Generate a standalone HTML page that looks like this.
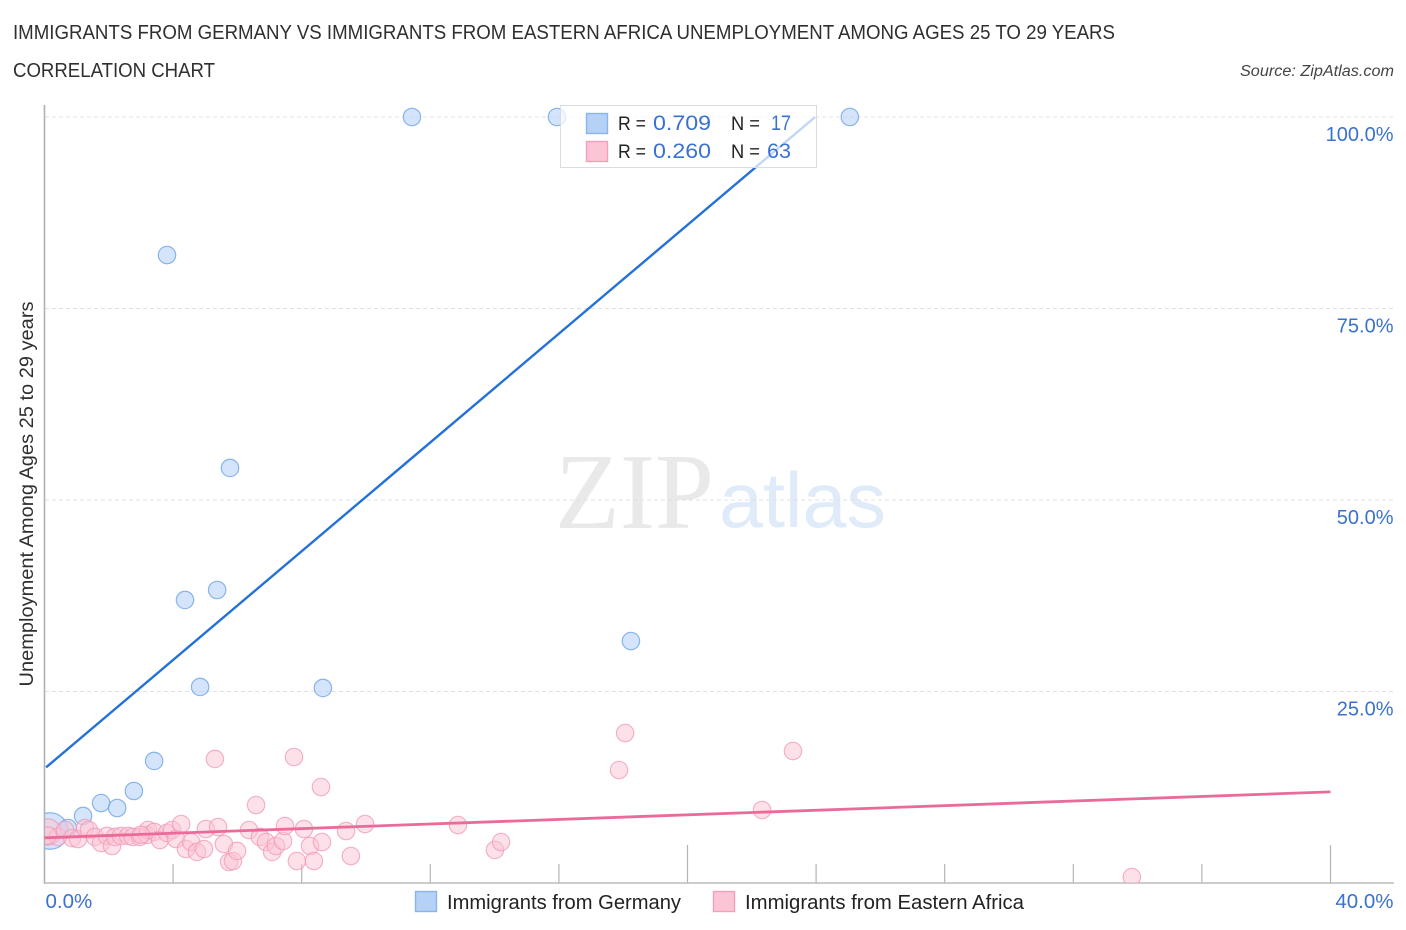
<!DOCTYPE html>
<html lang="en">
<head>
<meta charset="utf-8">
<title>Immigrants from Germany vs Immigrants from Eastern Africa Unemployment Correlation Chart</title>
<style>
html,body{margin:0;padding:0;background:#fff;width:1406px;height:930px;overflow:hidden}
svg{display:block;font-family:"Liberation Sans",sans-serif}
</style>
</head>
<body>
<svg id="chart" xmlns="http://www.w3.org/2000/svg" width="1406" height="930" viewBox="0 0 1406 930">
  <defs>
    <clipPath id="plot-clip"><rect x="45" y="100" width="1349" height="783"/></clipPath>
  </defs>
  <text x="13" y="39" font-size="20" fill="#2f2f2f" textLength="1102" lengthAdjust="spacingAndGlyphs">IMMIGRANTS FROM GERMANY VS IMMIGRANTS FROM EASTERN AFRICA UNEMPLOYMENT AMONG AGES 25 TO 29 YEARS</text>
  <text x="13" y="77" font-size="20" fill="#2f2f2f" textLength="202" lengthAdjust="spacingAndGlyphs">CORRELATION CHART</text>
  <text x="1394" y="76" font-size="15.5" font-style="italic" fill="#444" text-anchor="end" textLength="154" lengthAdjust="spacingAndGlyphs">Source: ZipAtlas.com</text>

  <g>
    <text x="555" y="528" font-family="'Liberation Serif',serif" font-size="108" fill="#e9e9e9" textLength="159" lengthAdjust="spacingAndGlyphs">ZIP</text>
    <text x="719" y="527" font-size="78" fill="#e0ebf9" textLength="167" lengthAdjust="spacingAndGlyphs">atlas</text>
  </g>

  <g id="grid"></g>
  <g id="axes"></g>
  <g id="points-germany" clip-path="url(#plot-clip)"></g>
  <g id="points-africa" clip-path="url(#plot-clip)"></g>
  <g id="trends"></g>
  <g id="labels"></g>

  <text transform="translate(33,494) rotate(-90)" font-size="19.5" fill="#2f2f2f" text-anchor="middle" textLength="385" lengthAdjust="spacingAndGlyphs">Unemployment Among Ages 25 to 29 years</text>

  <g>
    <rect x="560.5" y="105.5" width="256" height="62" fill="#fff" fill-opacity="0.72" stroke="#d9dde2" stroke-width="1"/>
    <rect x="586.5" y="113.5" width="21" height="20" fill="#b5d1f6" stroke="#8ab4ea" stroke-width="1.4"/>
    <rect x="586.5" y="141.5" width="21" height="20" fill="#fcc5d6" stroke="#f2a0bb" stroke-width="1.4"/>
    <text x="618" y="130" font-size="19.5" fill="#222" textLength="28" lengthAdjust="spacingAndGlyphs">R =</text>
    <text x="653" y="130" font-size="21.5" fill="#3a72d0" textLength="58" lengthAdjust="spacingAndGlyphs">0.709</text>
    <text x="731" y="130" font-size="19.5" fill="#222" textLength="29" lengthAdjust="spacingAndGlyphs">N =</text>
    <text x="771" y="130" font-size="21.5" fill="#3a72d0" textLength="20" lengthAdjust="spacingAndGlyphs">17</text>
    <text x="618" y="158" font-size="19.5" fill="#222" textLength="28" lengthAdjust="spacingAndGlyphs">R =</text>
    <text x="653" y="158" font-size="21.5" fill="#3a72d0" textLength="58" lengthAdjust="spacingAndGlyphs">0.260</text>
    <text x="731" y="158" font-size="19.5" fill="#222" textLength="29" lengthAdjust="spacingAndGlyphs">N =</text>
    <text x="767" y="158" font-size="21.5" fill="#3a72d0" textLength="24" lengthAdjust="spacingAndGlyphs">63</text>
  </g>

  <g>
    <rect x="415.5" y="891.5" width="21" height="20" fill="#b5d1f6" stroke="#8ab4ea" stroke-width="1.4"/>
    <text x="447" y="909" font-size="20" fill="#222" textLength="234" lengthAdjust="spacingAndGlyphs">Immigrants from Germany</text>
    <rect x="713.5" y="891.5" width="21" height="20" fill="#fcc5d6" stroke="#f2a0bb" stroke-width="1.4"/>
    <text x="745" y="909" font-size="20" fill="#222" textLength="279" lengthAdjust="spacingAndGlyphs">Immigrants from Eastern Africa</text>
  </g>
</svg>

<script>
const germanyX = [0.17, 0.73, 1.20, 1.76, 2.26, 2.78, 3.41, 3.81, 4.37, 4.84, 5.37, 5.77, 8.66, 11.43, 15.94, 18.24, 25.05];
const germanyY = [6.79, 7.18, 8.75, 10.44, 9.79, 12.01, 15.93, 81.98, 36.95, 25.59, 38.25, 54.18, 25.46, 100, 100, 31.59, 100];
const germanyWeight = [4.4, 1, 1, 1, 1, 1, 1, 1, 1, 1, 1, 1, 1, 1, 1, 1, 1];

const africaX = [0.10, 0.42, 0.64, 0.86, 1.04, 1.26, 1.38, 1.57, 1.76, 1.94, 2.10, 2.19, 2.38, 2.60, 2.75, 2.97, 3.19, 3.22, 3.41, 3.59, 3.81, 3.97, 4.09, 4.25, 4.40, 4.56, 4.74, 4.96, 5.02, 5.30, 5.40, 5.58, 5.74, 5.86, 5.99, 6.36, 6.58, 6.70, 6.89, 7.08, 7.20, 7.42, 7.48, 7.76, 7.85, 8.07, 8.26, 8.38, 8.60, 8.63, 9.38, 9.53, 9.97, 12.86, 14.01, 14.20, 17.87, 18.06, 22.32, 23.28, 33.82, 0.10, 3.00];
const africaY = [6.66, 6.01, 6.92, 5.87, 5.74, 7.18, 6.92, 6.01, 5.22, 6.14, 4.83, 6.01, 6.14, 6.14, 6.01, 6.01, 6.27, 6.92, 6.66, 5.61, 6.53, 6.92, 5.74, 7.70, 4.44, 5.35, 4.05, 4.44, 7.05, 16.19, 7.31, 5.09, 2.74, 2.87, 4.18, 6.92, 10.18, 6.01, 5.35, 4.05, 4.83, 5.48, 7.44, 16.45, 2.87, 7.05, 4.83, 2.87, 12.53, 5.35, 6.79, 3.52, 7.70, 7.57, 4.31, 5.35, 14.75, 19.58, 9.53, 17.23, 0.78, 6.20, 6.30];
const africaWeight = [2.3, 1, 1, 1, 1, 1, 1, 1, 1, 1, 1, 1, 1, 1, 1, 1, 1, 1, 1, 1, 1, 1, 1, 1, 1, 1, 1, 1, 1, 1, 1, 1, 1, 1, 1, 1, 1, 1, 1, 1, 1, 1, 1, 1, 1, 1, 1, 1, 1, 1, 1, 1, 1, 1, 1, 1, 1, 1, 1, 1, 1, 1, 1];

const germanyTrendX = [0.05, 23.97];
const germanyTrendY = [15.1, 100];
const africaTrendX = [0, 40];
const africaTrendY = [5.9, 11.9];

const yTickValues = [100, 75, 50, 25];
const yTickLabels = ["100.0%", "75.0%", "50.0%", "25.0%"];
const xTickValues = [4, 8, 12, 16, 20, 24, 28, 32, 36, 40];
const xMajorTicks = [20, 40];
const xEndValues = [0, 40];
const xEndLabels = ["0.0%", "40.0%"];

const NS = "http://www.w3.org/2000/svg";
function xScale(v) { return 44.5 + v * (1330.5 - 44.5) / 40; }
function yScale(v) { return 883 - v * (883 - 117) / 100; }
function radius(w) { return 8.7 * Math.sqrt(w); }
function make(tag, attrs, parent) {
  const el = document.createElementNS(NS, tag);
  for (const k in attrs) el.setAttribute(k, attrs[k]);
  parent.appendChild(el);
  return el;
}

const gridGroup = document.getElementById("grid");
yTickValues.forEach(function (v) {
  const el = make("line", { x1: 45, x2: 1393, y1: yScale(v), y2: yScale(v), stroke: "#e0e0e0", "stroke-width": 1, "stroke-dasharray": "4 3" }, gridGroup);
  
  
});

const axesGroup = document.getElementById("axes");
const yAxis = make("line", { x1: 44.5, x2: 44.5, y1: 105, y2: 884, stroke: "#b0b0b0", "stroke-width": 1.6 }, axesGroup);


const xAxis = make("line", { x1: 44, x2: 1394, y1: 883, y2: 883, stroke: "#bcbcbc", "stroke-width": 1.6 }, axesGroup);


xTickValues.forEach(function (v) {
  const top = xMajorTicks.indexOf(v) >= 0 ? 845 : 864;
  const el = make("line", { x1: xScale(v), x2: xScale(v), y1: top, y2: 883, stroke: "#b4b4b4", "stroke-width": 1.2 }, axesGroup);
  
  
});

const germanyGroup = document.getElementById("points-germany");
germanyX.forEach(function (x, i) {
  const el = make("circle", { cx: xScale(x), cy: yScale(germanyY[i]), r: radius(germanyWeight[i]), fill: "#b5d1f6", "fill-opacity": 0.58, stroke: "#6fa5e6", "stroke-opacity": 0.8, "stroke-width": 1.2 }, germanyGroup);
  
  
});

const africaGroup = document.getElementById("points-africa");
africaX.forEach(function (x, i) {
  const el = make("circle", { cx: xScale(x), cy: yScale(africaY[i]), r: radius(africaWeight[i]), fill: "#fbc4d4", "fill-opacity": 0.5, stroke: "#f09ab8", "stroke-opacity": 0.75, "stroke-width": 1.2 }, africaGroup);
  
  
});

const trendGroup = document.getElementById("trends");
const germanyTrend = make("line", { x1: xScale(germanyTrendX[0]), y1: yScale(germanyTrendY[0]), x2: xScale(germanyTrendX[1]), y2: yScale(germanyTrendY[1]), stroke: "#2471d8", "stroke-width": 2.4 }, trendGroup);


const africaTrend = make("line", { x1: xScale(africaTrendX[0]), y1: yScale(africaTrendY[0]), x2: xScale(africaTrendX[1]), y2: yScale(africaTrendY[1]), stroke: "#ec6a9a", "stroke-width": 2.8 }, trendGroup);



const labelGroup = document.getElementById("labels");
yTickValues.forEach(function (v, i) {
  const el = make("text", { x: 1393.5, y: yScale(v) + 24, "font-size": 20, fill: "#3a72d0", "text-anchor": "end" }, labelGroup);
  el.textContent = yTickLabels[i];
  
  
});
xEndValues.forEach(function (v, i) {
  const el = make("text", { x: i === 0 ? xScale(v) + 1 : xScale(v) + 63, y: 908, "font-size": 20.5, fill: "#3a72d0", "text-anchor": i === 0 ? "start" : "end" }, labelGroup);
  el.textContent = xEndLabels[i];
  
  
});
</script>
</body>
</html>
